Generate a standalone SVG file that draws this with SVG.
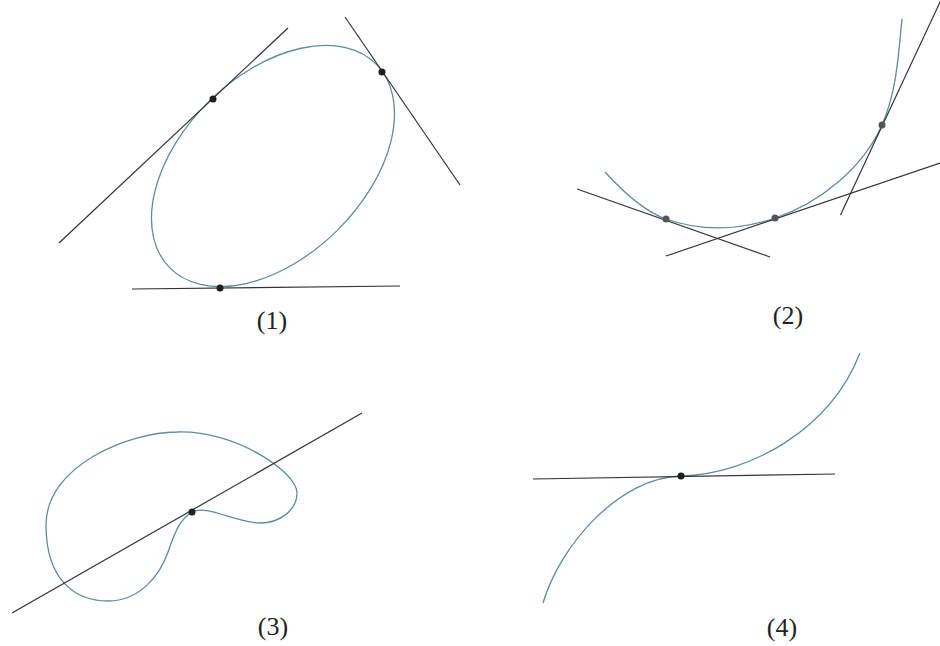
<svg xmlns="http://www.w3.org/2000/svg" width="940" height="646" viewBox="0 0 940 646">
<style>
.curve{fill:none;stroke:#5b8e9c;stroke-width:1.3}
.line{fill:none;stroke:#333;stroke-width:1.2}
.dot{fill:#1e1e1e}
.gdot{fill:#555}
.lbl{font-family:"Liberation Serif","DejaVu Serif",serif;font-size:26px;fill:#222;text-anchor:middle}
</style>
<rect width="940" height="646" fill="#fff"/>
<g id="panel1">
<ellipse class="curve" cx="273" cy="166" rx="145" ry="91" transform="rotate(-44.5 273 166)"/>
<g id="tangents1">
<line class="line" x1="59" y1="243" x2="288" y2="28"/>
<line class="line" x1="345" y1="17" x2="460" y2="185"/>
<line class="line" x1="132" y1="289" x2="400" y2="286"/>
</g>
<circle class="dot" cx="213" cy="99" r="3.5"/>
<circle class="dot" cx="382" cy="72" r="3.5"/>
<circle class="dot" cx="220" cy="288" r="3.5"/>
<text class="lbl" x="272" y="329">(1)</text>
</g>
<g id="panel2">
<path class="curve" d="M605,172 C625,194 646,212 666,219 C702,231.7 739,230.2 775,218 C820,202.8 863,168 882,125 C896.6,92.1 898.4,55 902,19"/>
<g id="tangents2">
<line class="line" x1="577" y1="189" x2="770" y2="257"/>
<line class="line" x1="666" y1="256" x2="940" y2="163"/>
<line class="line" x1="840.5" y1="215" x2="941" y2="0"/>
</g>
<circle class="gdot" cx="666" cy="219" r="3.5"/>
<circle class="gdot" cx="775" cy="218" r="3.5"/>
<circle class="gdot" cx="882" cy="125" r="3.5"/>
<text class="lbl" x="788" y="324">(2)</text>
</g>
<g id="panel3">
<path class="curve" d="M192,512 C206,504 236,523 260,523 C280,523 297,510 297,493 C297,472 235,430 177,432 C130,432 46,465 46,525 C46,580 75,601 108,601 C140,601 160,575 168,552 C176,529 180,520 192,512 Z"/>
<line class="line" x1="12" y1="613" x2="362" y2="413"/>
<circle class="dot" cx="192" cy="512" r="3.5"/>
<text class="lbl" x="273" y="635">(3)</text>
</g>
<g id="panel4">
<path class="curve" d="M543,603 C560,545 620,477 681,476 C750,474 830,430 860,353"/>
<line class="line" x1="533" y1="479" x2="835" y2="474"/>
<circle class="dot" cx="681" cy="476" r="3.5"/>
<text class="lbl" x="782" y="636">(4)</text>
</g>
</svg>
